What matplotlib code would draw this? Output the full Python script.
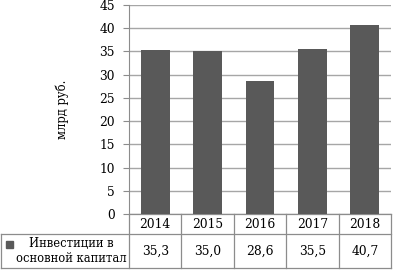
import matplotlib
matplotlib.use("Agg")
import matplotlib.pyplot as plt
from matplotlib.patches import Rectangle
from matplotlib.lines import Line2D

years = ["2014", "2015", "2016", "2017", "2018"]
values = [35.3, 35.0, 28.6, 35.5, 40.7]
series_name = "Инвестиции в\nосновной капитал"
y_label = "млрд руб."
y_ticks = [0, 5, 10, 15, 20, 25, 30, 35, 40, 45]

plt.rcParams['font.family'] = ['DejaVu Serif']
FS = 8.3
bar_color = "#595959"
grid_color = "#a6a6a6"
line_color = "#8c8c8c"

W, H = 393, 270
fig = plt.figure(figsize=(W / 100, H / 100), dpi=100)
ax_l, ax_r, ax_t, ax_b = 129, 391, 5, 214
ax = fig.add_axes([ax_l / W, 1 - ax_b / H, (ax_r - ax_l) / W, (ax_b - ax_t) / H])

x = list(range(len(years)))
ax.bar(x, values, width=0.55, color=bar_color, zorder=3)
ax.set_xlim(-0.5, len(years) - 0.5)
ax.set_ylim(0, 45)
ax.set_yticks(y_ticks)
ax.set_yticklabels([str(t) for t in y_ticks], fontsize=FS + 0.5)
ax.set_xticks([])
ax.yaxis.grid(True, color=grid_color, linewidth=1.0, zorder=0)
for s in ["top", "right", "bottom"]:
    ax.spines[s].set_visible(False)
ax.spines["left"].set_color(line_color)
ax.tick_params(axis="y", length=4, color=line_color, pad=6)
ax.set_ylabel(y_label, fontsize=FS, labelpad=22)

# data table drawn below the axes
axw = ax_r - ax_l
axh = ax_b - ax_t
lab_w = 128
row_h0, row_h1 = 20, 34
y0 = 0.0
y1 = -row_h0 / axh
y2 = -(row_h0 + row_h1) / axh
xl = -lab_w / axw
tx = ax.get_xaxis_transform()
lk = dict(color=line_color, linewidth=0.9, clip_on=False)

# horizontal lines
ax.add_line(Line2D([-0.5, len(years) - 0.5], [y0, y0], transform=tx, **lk))
ax.add_line(Line2D([xl, 1.0], [y1, y1], transform=ax.transAxes, **lk))
ax.add_line(Line2D([xl, 1.0], [y2, y2], transform=ax.transAxes, **lk))
# vertical lines
for i in range(len(years) + 1):
    ax.add_line(Line2D([i - 0.5, i - 0.5], [y0, y2], transform=tx, **lk))
ax.add_line(Line2D([xl, xl], [y1, y2], transform=ax.transAxes, **lk))

# cell texts
for i, (yr, v) in enumerate(zip(years, values)):
    ax.text(i, (y0 + y1) / 2, yr, transform=tx, ha="center", va="center",
            fontsize=FS + 0.5)
    ax.text(i, (y1 + y2) / 2, f"{v:.1f}".replace(".", ","), transform=tx,
            ha="center", va="center", fontsize=FS + 0.5)

# row label with legend key
lab_cx = (-lab_w / 2 + 6) / axw
ax.text(lab_cx, (y1 + y2) / 2, series_name, transform=ax.transAxes, ha="center",
        va="center", fontsize=FS, linespacing=1.2, clip_on=False)
ax.add_patch(Rectangle(((-lab_w + 5) / axw, -(row_h0 + 14) / axh), 7 / axw, 7 / axh,
                       transform=ax.transAxes, color=bar_color, clip_on=False))

fig.savefig("out.png", dpi=100)
